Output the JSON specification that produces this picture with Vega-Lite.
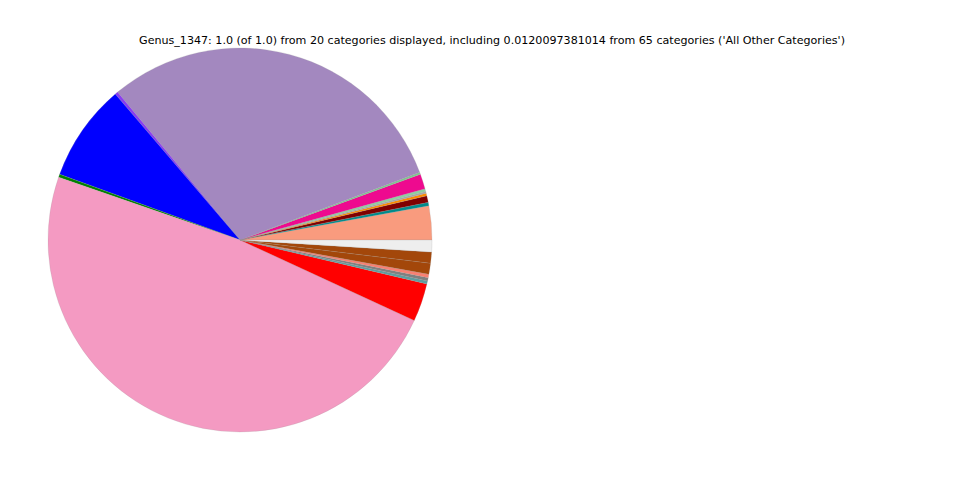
{
  "$schema": "https://vega.github.io/schema/vega-lite/v6.json",
  "width": 480,
  "height": 480,
  "autosize": {"type": "none"},
  "padding": {"left": 0, "top": 0, "right": 480, "bottom": 0},
  "background": "white",
  "title": {
    "text": "Genus_1347: 1.0 (of 1.0) from 20 categories displayed, including 0.0120097381014 from 65 categories ('All Other Categories')",
    "anchor": "middle",
    "frame": "group",
    "dx": 252,
    "offset": -46,
    "font": "DejaVu Sans",
    "fontSize": 11.1,
    "fontWeight": "normal",
    "color": "black"
  },
  "data": {
    "values": [
      {"idx": 1, "cat": "c01", "v": 0.0286},
      {"idx": 2, "cat": "c02", "v": 0.0028},
      {"idx": 3, "cat": "c03", "v": 0.0056},
      {"idx": 4, "cat": "c04", "v": 0.0022},
      {"idx": 5, "cat": "c05", "v": 0.0014},
      {"idx": 6, "cat": "c06", "v": 0.0025},
      {"idx": 7, "cat": "c07", "v": 0.0125},
      {"idx": 8, "cat": "c08", "v": 0.0017},
      {"idx": 9, "cat": "c09", "v": 0.3028},
      {"idx": 10, "cat": "c10", "v": 0.0025},
      {"idx": 11, "cat": "c11", "v": 0.0819},
      {"idx": 12, "cat": "c12", "v": 0.0025},
      {"idx": 13, "cat": "c13", "v": 0.4842},
      {"idx": 14, "cat": "c14", "v": 0.0322},
      {"idx": 15, "cat": "c15", "v": 0.0025},
      {"idx": 16, "cat": "c16", "v": 0.0028},
      {"idx": 17, "cat": "c17", "v": 0.0028},
      {"idx": 18, "cat": "c18", "v": 0.0093},
      {"idx": 19, "cat": "c19", "v": 0.0093},
      {"idx": 20, "cat": "All Other Categories", "v": 0.0100}
    ]
  },
  "mark": {"type": "arc", "radius": 192, "stroke": "#999999", "strokeWidth": 0.2},
  "encoding": {
    "theta": {"field": "v", "type": "quantitative", "stack": true, "scale": {"range": [1.5707963, -4.712389]}},
    "order": {"field": "idx", "type": "quantitative"},
    "color": {
      "field": "cat",
      "type": "nominal",
      "legend": null,
      "scale": {
        "domain": ["c01","c02","c03","c04","c05","c06","c07","c08","c09","c10","c11","c12","c13","c14","c15","c16","c17","c18","c19","All Other Categories"],
        "range": ["#f99b7e","#008a8a","#800000","#ff8c00","#aaaaaa","#8fd0a0","#ee0a8f","#80c890","#a388bf","#8a3cf0","#0000ff","#008000","#f49ac2","#ff0000","#5f9ea0","#808080","#fa8072","#a3470a","#a3470a","#eeeeee"]
      }
    }
  }
}
